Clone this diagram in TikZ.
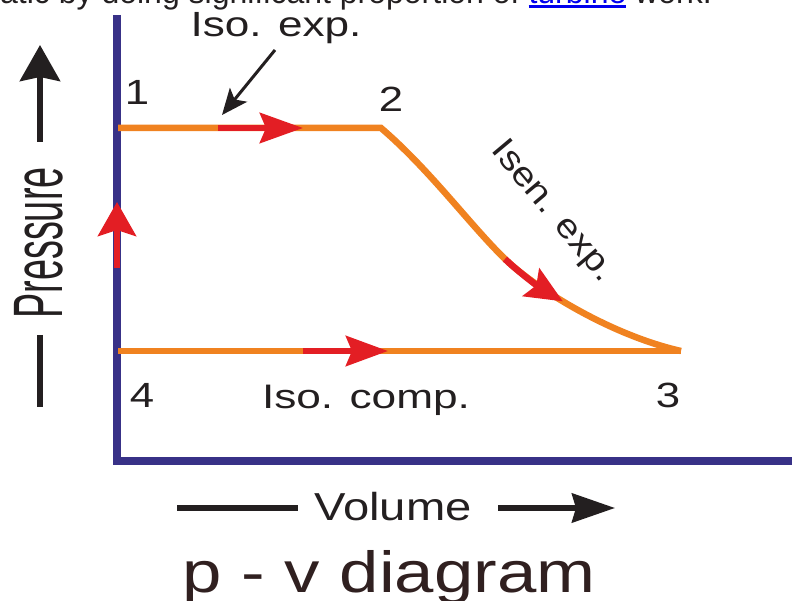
\documentclass[tikz,border=0pt]{standalone}
\usepackage{fontspec}
\setmainfont{Liberation Sans}
\usetikzlibrary{arrows.meta}
\definecolor{navy}{RGB}{56,49,135}
\definecolor{orng}{RGB}{240,130,32}
\definecolor{redd}{RGB}{227,30,36}
\definecolor{ink}{RGB}{35,31,32}
\definecolor{linkblue}{RGB}{0,0,238}
\definecolor{ttl}{RGB}{48,32,32}
\newcommand\mywide[2]{\scalebox{#1}[1]{#2}}
\newcommand\myulink[1]{\textcolor{linkblue}{\setbox0\hbox{#1}\rlap{\rule[-4pt]{\wd0}{2.5pt}}\box0}}
\begin{document}
\begin{tikzpicture}[x=1pt,y=-1pt,
  lbl/.style={inner sep=0pt, text=ink, anchor=base},
  axisln/.style={draw=navy, line width=7.5pt, line join=miter},
  pathln/.style={draw=orng, line width=6.5pt, line join=miter},
  redarrow/.style={draw=redd, line width=6.5pt},
  blackln/.style={draw=ink, line width=6pt},
]
\useasboundingbox (0,0) rectangle (792,601);
\begin{scope}
\clip (0,0) rectangle (792,601);
% cut-off web text at top
\node[anchor=base west, inner sep=0pt, text=ink, font=\fontsize{32}{32}\selectfont] (toptext) at (0,4)
  {atic by doing significant proportion of \myulink{turbine} work.};

% axes
\coordinate (ytop) at (117,15);
\coordinate (orig) at (117,461);
\coordinate (xend) at (795,461);
\draw[axisln] (ytop) -- (orig) -- (xend);

% cycle points
\coordinate (p1) at (118,128);
\coordinate (p2) at (381,128);
\coordinate (pm) at (505,259);
\coordinate (p3) at (681,351);
\coordinate (p4) at (118,351);

\draw[pathln] (p1) -- (p2) .. controls (430,170) and (470,225) .. (pm)
  .. controls (535,288) and (610,335) .. (p3);
\draw[pathln] (p4) -- (p3);

% red direction arrows
\coordinate (a1s) at (218,128); \coordinate (a1e) at (303,128);
\coordinate (a2e) at (562.9,301.4);
\coordinate (a3s) at (303,351); \coordinate (a3e) at (388,351);
\coordinate (a4s) at (117,268); \coordinate (a4e) at (117,202);
\draw[redarrow, -{Stealth[length=43pt,width=30pt,inset=6pt]}] (a1s) -- (a1e);
\draw[redarrow, -{Stealth[length=37pt,width=32pt,inset=6pt]}] (pm) .. controls (517.6,271.2) and (538.1,286.5) .. (a2e);
\draw[redarrow, -{Stealth[length=42pt,width=30pt,inset=6pt]}] (a3s) -- (a3e);
\draw[redarrow, -{Stealth[length=34pt,width=38pt,inset=6pt]}] (a4s) -- (a4e);

% pointer to the isothermal expansion line
\coordinate (ptrs) at (275,50); \coordinate (ptre) at (222,115);
\draw[draw=ink, line width=3pt, -{Stealth[length=26pt,width=22pt,inset=6pt]}] (ptrs) -- (ptre);

% labels
\node[lbl, font=\fontsize{35}{35}\selectfont] (isoexp) at (276,37) {\mywide{1.26}{Iso. exp.}};
\node[lbl, font=\fontsize{34}{34}\selectfont] (isocomp) at (366,408) {\mywide{1.30}{Iso. comp.}};
\node[inner sep=0pt, text=ink, rotate=-50, font=\fontsize{34}{34}\selectfont] (isen) at (552,212) {\mywide{1.15}{Isen. exp.}};
\node[lbl, font=\fontsize{35}{35}\selectfont] (n1) at (137,105) {\mywide{1.25}{1}};
\node[lbl, font=\fontsize{35}{35}\selectfont] (n2) at (391,112) {\mywide{1.25}{2}};
\node[lbl, font=\fontsize{35}{35}\selectfont] (n3) at (668,407) {\mywide{1.25}{3}};
\node[lbl, font=\fontsize{35}{35}\selectfont] (n4) at (142,407) {\mywide{1.25}{4}};

% pressure axis label
\node[inner sep=0pt, text=ink, rotate=90, font=\fontsize{70}{70}\selectfont] (press) at (39,243) {\mywide{0.54}{Pressure}};
\coordinate (pbar1) at (40,335); \coordinate (pbar2) at (40,407);
\draw[blackln] (pbar1) -- (pbar2);
\coordinate (parr1) at (40,142); \coordinate (parr2) at (40,45);
\draw[blackln, -{Stealth[length=36pt,width=40pt,inset=4pt]}] (parr1) -- (parr2);

% volume axis label
\node[lbl, font=\fontsize{39}{39}\selectfont] (vol) at (393,520) {\mywide{1.21}{Volume}};
\coordinate (vbar1) at (177,508); \coordinate (vbar2) at (298,508);
\draw[draw=ink, line width=5.5pt] (vbar1) -- (vbar2);
\coordinate (varr1) at (498,508); \coordinate (varr2) at (615,508);
\draw[draw=ink, line width=5.5pt, -{Stealth[length=43pt,width=29pt,inset=4pt]}] (varr1) -- (varr2);

% title
\node[lbl, text=ttl, font=\fontsize{58}{58}\selectfont] (title) at (389,592) {\mywide{1.22}{p - v diagram}};
\end{scope}
\end{tikzpicture}
\end{document}
